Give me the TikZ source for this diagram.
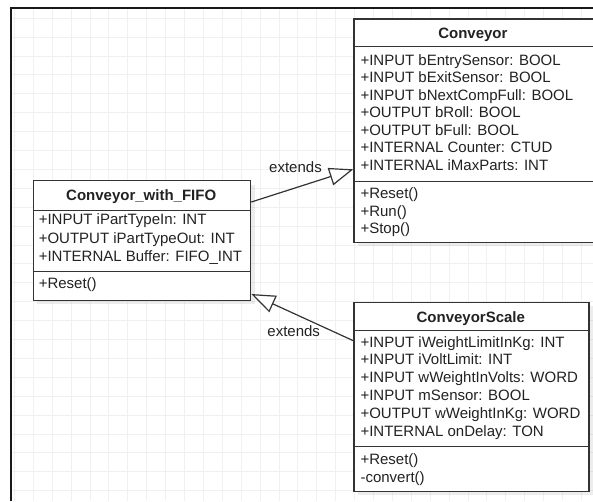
\documentclass[tikz,border=0pt]{standalone}
\usepackage{fontspec}
\setmainfont{Liberation Sans}
\usetikzlibrary{arrows.meta,shadows}
\definecolor{textc}{HTML}{222222}
\definecolor{linec}{HTML}{333333}
\definecolor{gridc}{HTML}{F0F0F0}
\tikzset{
  cls/.style={draw=linec, line width=1.3pt, fill=white, rectangle, inner sep=0pt, anchor=north west,
    drop shadow={shadow xshift=4pt, shadow yshift=-4pt, opacity=0.07, fill=black}},
  sepline/.style={draw=linec, line width=1.3pt},
  hdr/.style={font=\bfseries\fontsize{15}{17.5}\selectfont, anchor=base, inner sep=0pt, text=textc},
  attr/.style={font=\fontsize{15}{17.5}\selectfont, anchor=base west, inner sep=0pt, text=textc},
  lbl/.style={font=\fontsize{15}{17.5}\selectfont, inner sep=0pt, text=textc},
  gen/.style={draw=linec, line width=1.2pt, line join=miter,
    -{Triangle[fill=white, length=24pt, width=18pt]}},
}
\begin{document}
\begin{tikzpicture}[x=1pt, y=-1pt]
\useasboundingbox (0,0) rectangle (593,501);
\fill[white] (0,0) rectangle (593,501);
% grid
\foreach \k in {0,...,30} \draw[gridc, line width=0.9pt] (14.4+18.9*\k, 8) -- (14.4+18.9*\k, 501);
\foreach \k in {0,...,25} \draw[gridc, line width=0.9pt] (11, 18.2+18.9*\k) -- (593, 18.2+18.9*\k);
% frame
\draw[black!90, line width=2.2pt] (11.3,501) -- (11.3,8.3) -- (593,8.3);

% Conveyor
\node[cls, minimum width=239.2pt, minimum height=223.4pt] (conv) at (353.3,18.3) {};
\draw[sepline] ([yshift=-28.4pt]conv.north west) -- ([yshift=-28.4pt]conv.north east);
\draw[sepline] ([yshift=-163.4pt]conv.north west) -- ([yshift=-163.4pt]conv.north east);
\node[hdr] (convh) at (472.9,38.7) {Conveyor};
\foreach \t [count=\i from 0] in {+INPUT bEntrySensor: BOOL, +INPUT bExitSensor: BOOL, +INPUT bNextCompFull: BOOL, +OUTPUT bRoll: BOOL, +OUTPUT bFull: BOOL, +INTERNAL Counter: CTUD, +INTERNAL iMaxParts: INT}
  \node[attr] (conva\i) at (360.3, 65.4+17.5*\i) {\t};
\foreach \t [count=\i from 0] in {+Reset(), +Run(), +Stop()}
  \node[attr] (convm\i) at (360.3, 198.7+17.5*\i) {\t};

% Conveyor_with_FIFO
\node[cls, minimum width=217.5pt, minimum height=119.5pt] (fifo) at (32.5,180) {};
\draw[sepline] ([yshift=-30.7pt]fifo.north west) -- ([yshift=-30.7pt]fifo.north east);
\draw[sepline] ([yshift=-91.7pt]fifo.north west) -- ([yshift=-91.7pt]fifo.north east);
\node[hdr] (fifoh) at (141.2,200.4) {Conveyor\_with\_FIFO};
\foreach \t [count=\i from 0] in {+INPUT iPartTypeIn: INT, +OUTPUT iPartTypeOut: INT, +INTERNAL Buffer: FIFO\_INT}
  \node[attr] (fifoa\i) at (38.6, 224.9+18.1*\i) {\t};
\node[attr] (fifom0) at (38.6, 288.7) {+Reset()};

% ConveyorScale
\node[cls, minimum width=235pt, minimum height=188.8pt] (scale) at (353.3,301.7) {};
\draw[sepline] ([yshift=-29pt]scale.north west) -- ([yshift=-29pt]scale.north east);
\draw[sepline] ([yshift=-145pt]scale.north west) -- ([yshift=-145pt]scale.north east);
\node[hdr] (scaleh) at (470.8,322.1) {ConveyorScale};
\foreach \t [count=\i from 0] in {+INPUT iWeightLimitInKg: INT, +INPUT iVoltLimit: INT, +INPUT wWeightInVolts: WORD, +INPUT mSensor: BOOL, +OUTPUT wWeightInKg: WORD, +INTERNAL onDelay: TON}
  \node[attr] (scalea\i) at (360.3, 347.1+17.86*\i) {\t};
\foreach \t [count=\i from 0] in {+Reset(), -convert()}
  \node[attr] (scalem\i) at (360.3, 464.7+18*\i) {\t};

% generalizations
\draw[gen] ([yshift=-22pt]fifo.north east) -- ([yshift=-151pt]conv.north west);
\draw[gen] ([yshift=-39pt]scale.north west) -- ([yshift=6.8pt]fifo.south east);
\node[lbl] (ext1) at (295.5,166.7) {extends};
\node[lbl] (ext2) at (293.7,330.7) {extends};
\end{tikzpicture}
\end{document}
